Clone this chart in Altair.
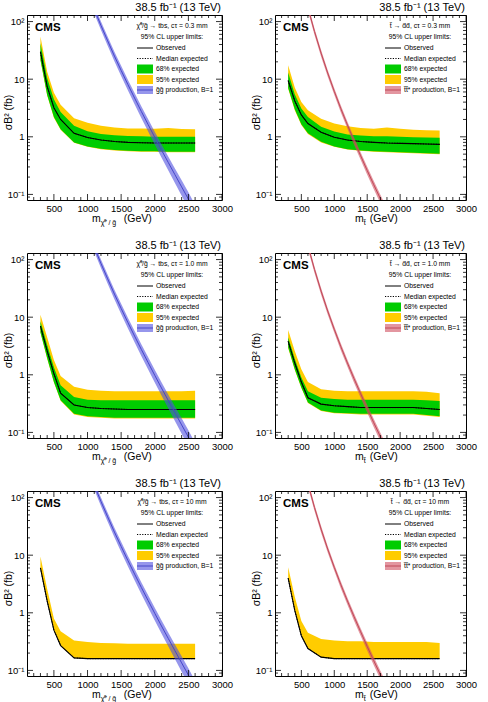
import altair as alt
import pandas as pd

FONT = "Liberation Sans"

# Signal mass points (GeV) where the limits were computed
MASS = [300, 400, 500, 600, 800, 1000, 1200, 1400, 1600, 1800, 2000, 2200, 2400, 2600]

# chi0/gluino -> tbs, c*tau = 0.3 mm  (fb)
OBS_G03 = [30, 7.5, 3.2, 2.0, 1.15, 0.97, 0.88, 0.83, 0.80, 0.79, 0.78, 0.78, 0.78, 0.78]
EXP_G03 = [29, 7.4, 3.2, 2.0, 1.15, 0.97, 0.88, 0.83, 0.80, 0.79, 0.78, 0.78, 0.78, 0.78]
G_UP_G03 = [42, 10.5, 4.5, 2.7, 1.55, 1.25, 1.12, 1.06, 1.03, 1.02, 1.0, 1.0, 1.0, 1.0]
G_DN_G03 = [22, 5.3, 2.2, 1.35, 0.80, 0.68, 0.62, 0.59, 0.57, 0.56, 0.56, 0.55, 0.55, 0.55]
Y_UP_G03 = [55, 13.5, 5.8, 3.6, 2.1, 1.75, 1.55, 1.45, 1.40, 1.40, 1.38, 1.42, 1.36, 1.35]
Y_DN_G03 = [21, 5.2, 2.15, 1.32, 0.79, 0.67, 0.61, 0.58, 0.56, 0.55, 0.55, 0.54, 0.54, 0.54]

# stop -> dd, c*tau = 0.3 mm
OBS_T03 = [9.5, 4.2, 2.4, 1.7, 1.2, 0.98, 0.88, 0.83, 0.80, 0.78, 0.77, 0.76, 0.75, 0.74]
EXP_T03 = [9.4, 4.2, 2.4, 1.7, 1.2, 0.98, 0.88, 0.83, 0.80, 0.78, 0.77, 0.76, 0.75, 0.74]
G_UP_T03 = [13, 5.5, 3.1, 2.2, 1.5, 1.23, 1.10, 1.05, 1.02, 1.02, 1.0, 0.98, 0.97, 0.96]
G_DN_T03 = [7.0, 3.0, 1.65, 1.15, 0.82, 0.68, 0.61, 0.58, 0.56, 0.55, 0.54, 0.53, 0.52, 0.51]
Y_UP_T03 = [17.5, 7.2, 4.0, 2.9, 2.05, 1.70, 1.52, 1.42, 1.38, 1.45, 1.38, 1.33, 1.30, 1.28]
Y_DN_T03 = [6.8, 2.9, 1.6, 1.12, 0.80, 0.67, 0.60, 0.57, 0.55, 0.54, 0.53, 0.52, 0.51, 0.50]

# chi0/gluino -> tbs, c*tau = 1.0 mm
OBS_G10 = [7.0, 2.6, 1.05, 0.48, 0.30, 0.27, 0.26, 0.255, 0.25, 0.25, 0.25, 0.25, 0.25, 0.25]
EXP_G10 = [7.0, 2.6, 1.05, 0.48, 0.30, 0.27, 0.26, 0.255, 0.25, 0.25, 0.25, 0.25, 0.25, 0.25]
G_UP_G10 = [8.5, 3.3, 1.35, 0.66, 0.41, 0.37, 0.36, 0.36, 0.36, 0.36, 0.36, 0.36, 0.36, 0.36]
G_DN_G10 = [5.5, 1.95, 0.75, 0.36, 0.21, 0.19, 0.185, 0.18, 0.18, 0.18, 0.18, 0.18, 0.18, 0.18]
Y_UP_G10 = [11, 4.5, 1.8, 0.95, 0.62, 0.55, 0.53, 0.52, 0.52, 0.52, 0.52, 0.52, 0.52, 0.53]
Y_DN_G10 = [5.4, 1.9, 0.74, 0.355, 0.205, 0.185, 0.18, 0.175, 0.175, 0.175, 0.175, 0.175, 0.175, 0.175]

# stop -> dd, c*tau = 1.0 mm
OBS_T10 = [3.8, 1.6, 0.75, 0.40, 0.31, 0.29, 0.28, 0.27, 0.27, 0.27, 0.27, 0.27, 0.26, 0.25]
EXP_T10 = [3.8, 1.6, 0.75, 0.40, 0.31, 0.29, 0.28, 0.27, 0.27, 0.27, 0.27, 0.27, 0.26, 0.25]
G_UP_T10 = [4.5, 1.9, 0.90, 0.52, 0.40, 0.38, 0.37, 0.37, 0.37, 0.37, 0.37, 0.37, 0.36, 0.35]
G_DN_T10 = [3.0, 1.25, 0.60, 0.33, 0.24, 0.22, 0.215, 0.21, 0.21, 0.21, 0.21, 0.21, 0.20, 0.19]
Y_UP_T10 = [6.0, 2.6, 1.25, 0.75, 0.56, 0.53, 0.52, 0.52, 0.52, 0.52, 0.52, 0.52, 0.51, 0.48]
Y_DN_T10 = [2.9, 1.22, 0.59, 0.325, 0.235, 0.215, 0.21, 0.205, 0.205, 0.205, 0.205, 0.205, 0.195, 0.185]

# chi0/gluino -> tbs, c*tau = 10 mm (no spread below the median)
OBS_G100 = [6.0, 1.6, 0.50, 0.27, 0.165, 0.16, 0.16, 0.16, 0.16, 0.16, 0.16, 0.16, 0.16, 0.16]
EXP_G100 = [6.0, 1.6, 0.50, 0.27, 0.165, 0.16, 0.16, 0.16, 0.16, 0.16, 0.16, 0.16, 0.16, 0.16]
Y_UP_G100 = [9.5, 2.6, 0.80, 0.48, 0.33, 0.31, 0.30, 0.295, 0.29, 0.29, 0.29, 0.29, 0.29, 0.29]

# stop -> dd, c*tau = 10 mm
OBS_T100 = [4.0, 1.1, 0.40, 0.24, 0.17, 0.16, 0.16, 0.16, 0.16, 0.16, 0.16, 0.16, 0.16, 0.16]
EXP_T100 = [4.0, 1.1, 0.40, 0.24, 0.17, 0.16, 0.16, 0.16, 0.16, 0.16, 0.16, 0.16, 0.16, 0.16]
Y_UP_T100 = [6.2, 1.9, 0.72, 0.45, 0.35, 0.33, 0.32, 0.32, 0.31, 0.31, 0.31, 0.31, 0.31, 0.30]

# Pair-production cross sections at 13 TeV (fb) with relative uncertainty
GLUINO_MASS = [1000, 1100, 1200, 1300, 1400, 1500, 1600, 1700, 1800, 1900, 2000, 2100, 2200, 2300, 2400, 2500, 2600]
GLUINO_XSEC = [325, 164, 85.6, 46.2, 25.2, 14.2, 8.1, 4.7, 2.76, 1.64, 0.98, 0.59, 0.36, 0.22, 0.135, 0.083, 0.05]
GLUINO_UNC = [0.15, 0.16, 0.17, 0.18, 0.19, 0.20, 0.21, 0.22, 0.23, 0.24, 0.25, 0.26, 0.27, 0.28, 0.30, 0.31, 0.32]
STOP_MASS = [500, 600, 700, 800, 900, 1000, 1100, 1200, 1300, 1400, 1500, 1600, 1700, 1800]
STOP_XSEC = [609, 175, 67, 28.3, 12.8, 6.15, 3.07, 1.60, 0.857, 0.47, 0.26, 0.147, 0.0845, 0.049]
STOP_UNC = [0.13, 0.13, 0.13, 0.13, 0.13, 0.13, 0.14, 0.14, 0.15, 0.15, 0.16, 0.16, 0.17, 0.17]

# Axis ticks
X_MAJOR = [500, 1000, 1500, 2000, 2500, 3000]
X_MINOR = [200, 300, 400, 600, 700, 800, 900, 1100, 1200, 1300, 1400, 1600, 1700, 1800, 1900,
           2100, 2200, 2300, 2400, 2600, 2700, 2800, 2900]
Y_MAJOR = [0.1, 1, 10, 100]
Y_MINOR = [0.09, 0.2, 0.3, 0.4, 0.5, 0.6, 0.7, 0.8, 0.9, 2, 3, 4, 5, 6, 7, 8, 9,
           20, 30, 40, 50, 60, 70, 80, 90]

X_DOMAIN = [100, 3000]
Y_DOMAIN = [0.08, 130]
H = 185
LEG = 6.8  # legend font size

YELLOW = "#ffcc00"
GREEN = "#00cc00"
ONE = pd.DataFrame({"i": [0]})

X_AXIS = alt.Axis(values=X_MAJOR, format="d", ticks=False, domain=False, grid=False,
                  labelPadding=3, labelFontSize=9.5, labelFont=FONT, labelColor="black",
                  labelFlush=False, labelOverlap=False, title=None)
Y_AXIS = alt.Axis(values=Y_MAJOR, ticks=False, domain=False, grid=False,
                  labelExpr="datum.value < 0.5 ? '10⁻¹' : datum.value > 50 ? '10²' : datum.value > 5 ? '10' : '1'",
                  labelPadding=3, labelFontSize=9.5, labelFont=FONT, labelColor="black",
                  labelFlush=False, labelOverlap=False,
                  title="σB² (fb)", titleFont=FONT, titleFontSize=10.5, titleFontWeight="normal",
                  titleColor="black", titleX=-14, titleY=97, titleAngle=270,
                  titleAlign="center", titleBaseline="bottom")


def xq(field):
    return alt.X(field, type="quantitative", scale=alt.Scale(domain=X_DOMAIN, nice=False, zero=False), axis=X_AXIS)


def yq(field):
    return alt.Y(field, type="quantitative", scale=alt.Scale(type="log", domain=Y_DOMAIN, nice=False), axis=Y_AXIS)


def txt(s, x, y, size=LEG, align="left", weight="normal", baseline="middle"):
    return alt.Chart(ONE).mark_text(
        text=s, fontSize=size, align=align, baseline=baseline, font=FONT,
        fontWeight=weight, color="black"
    ).encode(x=alt.value(x), y=alt.value(y))


def box(x0, x1, y0, y1, color, opacity=1.0):
    return alt.Chart(ONE).mark_rect(color=color, opacity=opacity).encode(
        x=alt.value(x0), x2=alt.value(x1), y=alt.value(y0), y2=alt.value(y1))


def hline(x0, x1, y, color="black", dash=None, width=1.0):
    kw = dict(color=color, strokeWidth=width)
    if dash:
        kw["strokeDash"] = dash
    return alt.Chart(ONE).mark_rule(**kw).encode(x=alt.value(x0), x2=alt.value(x1), y=alt.value(y))


def ticks(W):
    xM = pd.DataFrame({"v": X_MAJOR})
    xm = pd.DataFrame({"v": X_MINOR})
    yM = pd.DataFrame({"v": Y_MAJOR})
    ym = pd.DataFrame({"v": Y_MINOR})
    r = dict(color="black", strokeWidth=0.8)
    return [
        alt.Chart(xM).mark_rule(**r).encode(x=xq("v"), y=alt.value(H), y2=alt.value(H - 6)),
        alt.Chart(xm).mark_rule(**r).encode(x=xq("v"), y=alt.value(H), y2=alt.value(H - 3)),
        alt.Chart(xM).mark_rule(**r).encode(x=xq("v"), y=alt.value(0), y2=alt.value(6)),
        alt.Chart(xm).mark_rule(**r).encode(x=xq("v"), y=alt.value(0), y2=alt.value(3)),
        alt.Chart(yM).mark_rule(**r).encode(y=yq("v"), x=alt.value(0), x2=alt.value(6)),
        alt.Chart(ym).mark_rule(**r).encode(y=yq("v"), x=alt.value(0), x2=alt.value(3)),
        alt.Chart(yM).mark_rule(**r).encode(y=yq("v"), x=alt.value(W), x2=alt.value(W - 6)),
        alt.Chart(ym).mark_rule(**r).encode(y=yq("v"), x=alt.value(W), x2=alt.value(W - 3)),
    ]


def panel(W, obs, exp, g_up, g_dn, y_up, y_dn, th_mass, th_xsec, th_unc,
          band_fill, band_line, header, theory_label, subscript, mx, gev_dx):
    lim = pd.DataFrame(dict(m=MASS, obs=obs, exp=exp, gu=g_up, gd=g_dn, yu=y_up, yd=y_dn))
    th = pd.DataFrame(dict(m=th_mass, xs=th_xsec, unc=th_unc))
    th["lo"] = th["xs"] * (1 - th["unc"])
    th["hi"] = th["xs"] * (1 + th["unc"])

    base = alt.Chart(lim)
    yellow = base.mark_area(color=YELLOW, clip=True).encode(
        x=xq("m"), y=yq("yd"), y2=alt.Y2("yu"))
    green = base.mark_area(color=GREEN, clip=True).encode(x=xq("m"), y=yq("gd"), y2=alt.Y2("gu"))
    expected = base.mark_line(color="black", strokeWidth=1, strokeDash=[1.2, 1.4], clip=True).encode(
        x=xq("m"), y=yq("exp"))
    observed = base.mark_line(color="black", strokeWidth=1.1, clip=True).encode(
        x=xq("m"), y=yq("obs"))

    tb = alt.Chart(th)
    th_band = tb.mark_area(color=band_fill, opacity=0.6, clip=True).encode(
        x=xq("m"), y=yq("lo"), y2=alt.Y2("hi"))
    th_line = tb.mark_line(color=band_line, strokeWidth=1, clip=True).encode(
        x=xq("m"), y=yq("xs"))

    layers = [yellow, green, expected, observed, th_band, th_line]
    layers += ticks(W)

    # legend
    lx0, lx1, tx = 110, 126, 129
    layers += [
        txt(header, 145, 11, align="center"),
        txt("95% CL upper limits:", 145, 22, align="center"),
        hline(lx0, lx1, 33),
        txt("Observed", tx, 33),
        hline(lx0, lx1, 43.5, dash=[1.2, 1.4]),
        txt("Median expected", tx, 43.5),
        box(lx0, lx1, 49.5, 58.5, GREEN),
        txt("68% expected", tx, 54),
        box(lx0, lx1, 60, 69, YELLOW),
        txt("95% expected", tx, 64.5),
        box(lx0, lx1, 71, 79, band_fill, 0.6),
        hline(lx0, lx1, 75, color=band_line),
        txt(theory_label, tx, 75),
        txt("CMS", 8, 13, size=11.5, weight="bold"),
        txt("38.5 fb⁻¹ (13 TeV)", W - 1, -4, size=11, align="right", baseline="alphabetic"),
        # x-axis title with subscript
        txt("m", mx, H + 22, size=10.5, baseline="alphabetic"),
        txt(subscript, mx + 8.8, H + 25, size=7, baseline="alphabetic"),
        txt("(GeV)", mx + 8.8 + gev_dx, H + 22, size=10.5, baseline="alphabetic"),
    ]
    return alt.layer(*layers).properties(width=W, height=H)


WL, WR = 195, 191
G_SUB = "χ̃⁰ / g̃"
T_SUB = "t̃"
BLUE_FILL, BLUE_LINE = "#5050e0", "#4646c8"
RED_FILL, RED_LINE = "#d05060", "#c04858"

p1 = panel(WL, OBS_G03, EXP_G03, G_UP_G03, G_DN_G03, Y_UP_G03, Y_DN_G03,
           GLUINO_MASS, GLUINO_XSEC, GLUINO_UNC, BLUE_FILL, BLUE_LINE,
           "χ̃⁰/g̃ → tbs, cτ = 0.3 mm", "g̃g̃ production, B=1", G_SUB, 65, 23)
p2 = panel(WR, OBS_T03, EXP_T03, G_UP_T03, G_DN_T03, Y_UP_T03, Y_DN_T03,
           STOP_MASS, STOP_XSEC, STOP_UNC, RED_FILL, RED_LINE,
           "t̃ → d̄d̄, cτ = 0.3 mm", "t̃t̃* production, B=1", T_SUB, 80, 6)
p3 = panel(WL, OBS_G10, EXP_G10, G_UP_G10, G_DN_G10, Y_UP_G10, Y_DN_G10,
           GLUINO_MASS, GLUINO_XSEC, GLUINO_UNC, BLUE_FILL, BLUE_LINE,
           "χ̃⁰/g̃ → tbs, cτ = 1.0 mm", "g̃g̃ production, B=1", G_SUB, 65, 23)
p4 = panel(WR, OBS_T10, EXP_T10, G_UP_T10, G_DN_T10, Y_UP_T10, Y_DN_T10,
           STOP_MASS, STOP_XSEC, STOP_UNC, RED_FILL, RED_LINE,
           "t̃ → d̄d̄, cτ = 1.0 mm", "t̃t̃* production, B=1", T_SUB, 80, 6)
p5 = panel(WL, OBS_G100, EXP_G100, OBS_G100, OBS_G100, Y_UP_G100, OBS_G100,
           GLUINO_MASS, GLUINO_XSEC, GLUINO_UNC, BLUE_FILL, BLUE_LINE,
           "χ̃⁰/g̃ → tbs, cτ = 10 mm", "g̃g̃ production, B=1", G_SUB, 65, 23)
p6 = panel(WR, OBS_T100, EXP_T100, OBS_T100, OBS_T100, Y_UP_T100, OBS_T100,
           STOP_MASS, STOP_XSEC, STOP_UNC, RED_FILL, RED_LINE,
           "t̃ → d̄d̄, cτ = 10 mm", "t̃t̃* production, B=1", T_SUB, 80, 6)

chart = alt.concat(
    p1, p2, p3, p4, p5, p6, columns=2,
    spacing=alt.RowColnumber(row=53, column=53), bounds="flush"
).configure_view(stroke="black", strokeWidth=1).properties(
    padding={"left": 2, "top": 1, "right": 0, "bottom": 0},
    background="white",
)

chart.save("out.html", embed_options={"renderer": "svg", "actions": False})
